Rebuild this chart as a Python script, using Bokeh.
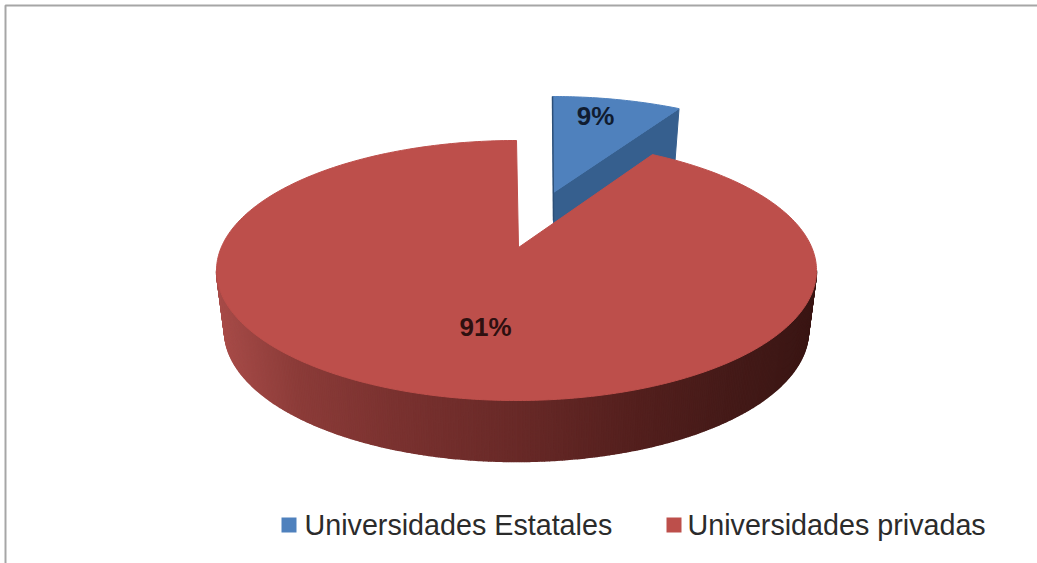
import numpy as np
from bokeh.embed import file_html
from bokeh.models import Range1d
from bokeh.plotting import figure
from bokeh.resources import INLINE
from bokeh.core.properties import value

categories = ["Universidades Estatales", "Universidades privadas"]
values = [9, 91]
labels = ["9%", "91%"]
top_colors = ["#4f81bd", "#bd4f4b"]
blue_side = "#365f8e"
frame_color = "#a6a6a6"

W, H = 1037, 563
share = np.array(values) / sum(values)
rim = np.radians(360 * share[0] * 0.77)   # foreshortened sweep of the small slice

p = figure(width=W, height=H, output_backend="svg", toolbar_location=None,
           x_range=Range1d(0, W), y_range=Range1d(H, 0),
           x_axis_location=None, y_axis_location=None, min_border=0,
           outline_line_color=None, background_fill_color="white",
           border_fill_color="white")
p.grid.visible = False
p.styles = {"position": "absolute", "left": "0px", "top": "0px"}


def ring(t, cx, cy, a, b):
    return cx + a * np.sin(t), cy - b * np.cos(t)


# chart frame
p.line([5, 5, W], [H, 5, 5], line_color=frame_color, line_width=2)

# small exploded slice
bc, bapex, bdepth = (552, 226), (553, 192), 52
bt = np.linspace(0, rim, 40)
bx, by = ring(bt, bc[0], bc[1], 300, 130)
p.patch([bapex[0], bx[-1], bx[-1] - 4, bapex[0]],
        [bapex[1], by[-1], by[-1] + bdepth, bapex[1] + bdepth],
        fill_color=blue_side, line_color=blue_side)
p.patch(np.r_[bapex[0], bx], np.r_[bapex[1], by],
        fill_color=top_colors[0], line_color=top_colors[0], line_width=1)
p.line([bapex[0], bx[0]], [bapex[1] + 28, by[0]], line_color="#2c4f78", line_width=1.5)

# side wall of the large slice, shaded from left to right
cx, cy, a, b = 516, 270, 300, 130
cx2, cy2, a2, b2 = 516, 330, 292, 131
phi = np.radians(np.linspace(90, 270, 361))
stops_x = [0.0, 0.13, 0.3, 0.5, 0.7, 0.85, 1.0]
stops_rgb = np.array([[168, 76, 73], [140, 60, 57], [122, 50, 48], [105, 42, 40],
                      [84, 32, 30], [70, 27, 25], [58, 22, 20]])
xs, ys, cols = [], [], []
for t0, t1 in zip(phi[:-1], phi[1:]):
    x0, y0 = ring(t0, cx, cy, a, b)
    x1, y1 = ring(t1, cx, cy, a, b)
    x2, y2 = ring(t1, cx2, cy2, a2, b2)
    x3, y3 = ring(t0, cx2, cy2, a2, b2)
    f = ((x0 + x1) / 2 - (cx - a)) / (2 * a)
    rgb = [int(np.interp(f, stops_x, stops_rgb[:, i])) for i in range(3)]
    xs.append([x0, x1, x2, x3])
    ys.append([y0, y1, y2, y3])
    cols.append("#%02x%02x%02x" % tuple(rgb))
p.patches(xs, ys, fill_color=cols, line_color=cols, line_width=1.5)

# top of the large slice
rt = np.linspace(rim + np.radians(2), 2 * np.pi, 400)
rx, ry = ring(rt, cx, cy, a, b)
apex = (518, 247)
p.patch(np.r_[apex[0], rx], np.r_[apex[1], ry],
        fill_color=top_colors[1], line_color=top_colors[1], line_width=1)

# data labels
p.text([595, 485], [115, 326], text=labels, text_align="center", text_baseline="middle",
       text_font=value("Liberation Sans"), text_font_style="bold", text_font_size="26px",
       text_color=["#101c30", "#2e1010"])

# legend
p.rect([288.5, 673.5], [524.5, 524.5], width=15, height=15,
       fill_color=top_colors, line_color=None)
p.text([304, 687], [524, 524], text=categories, text_align="left", text_baseline="middle",
       text_font=value("Liberation Sans"), text_font_size="28.7px", text_color="#2b2b2b")

open("out.html", "w").write(file_html(p, INLINE))
